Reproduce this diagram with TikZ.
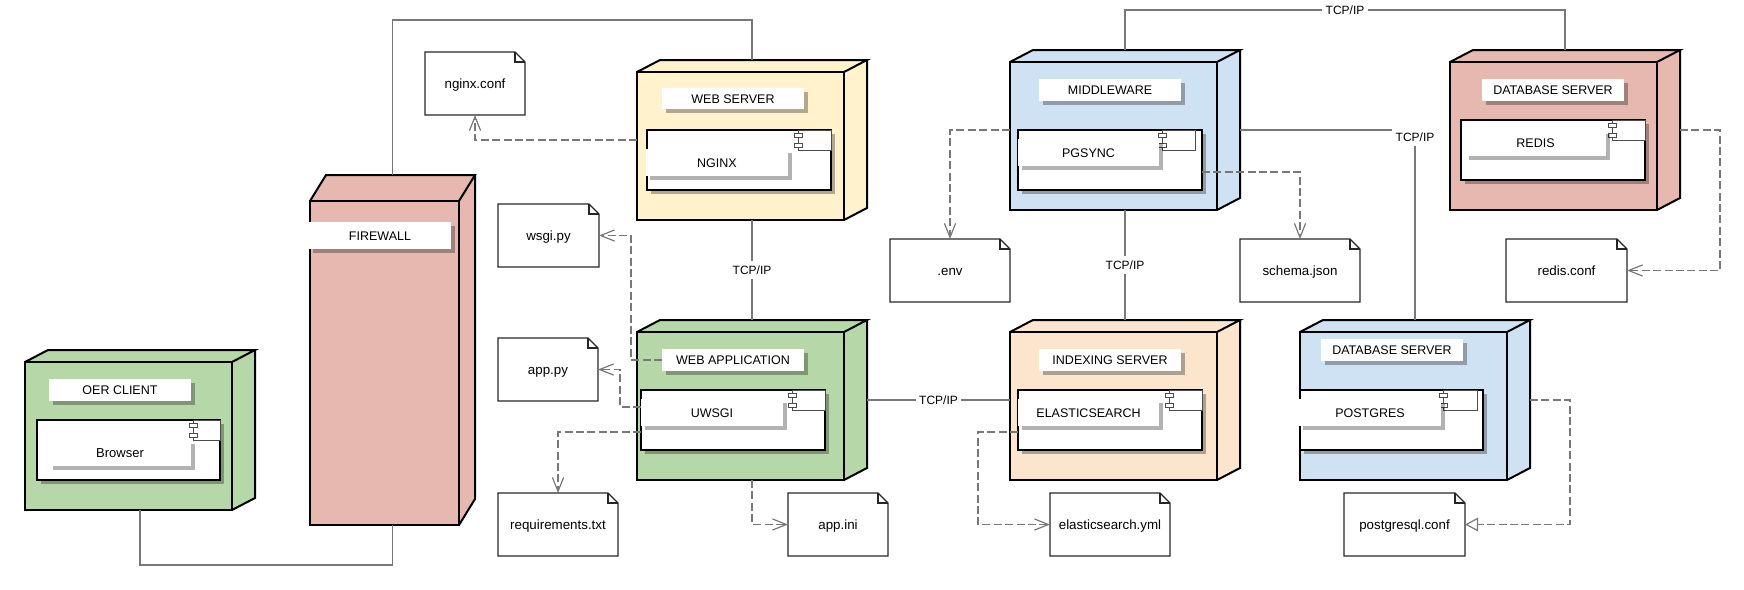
\documentclass[tikz,border=0pt]{standalone}
\usepackage{fontspec}
\setmainfont{Liberation Sans}
\usetikzlibrary{arrows.meta}
\definecolor{cgreen}{HTML}{B6D7A8}
\definecolor{cpink}{HTML}{E6B8AF}
\definecolor{cyellow}{HTML}{FFF2CC}
\definecolor{cblue}{HTML}{CFE2F3}
\definecolor{corange}{HTML}{FCE5CD}
\definecolor{cline}{HTML}{787878}
\tikzset{
  x=0.5pt,y=-0.5pt,
  ghost/.style={inner sep=0pt,outer sep=0pt,rectangle},
  heavy/.style={draw=black,line width=1pt,line join=miter},
  softshadow/.style={fill=black,fill opacity=.3,draw=none},
  lbltext/.style={ghost,fill=white,font=\fontsize{6.25pt}{8pt}\selectfont,text height=5.3pt,text depth=.7pt,align=center},
  notetext/.style={ghost,font=\fontsize{6.67pt}{8pt}\selectfont,text height=6pt,text depth=.8pt},
  noteline/.style={draw=black!85,line width=.65pt,line join=miter},
  iconline/.style={draw=black!70,fill=white,line width=.5pt},
  conn/.style={draw=cline,line width=.75pt},
  dep/.style={conn,dash pattern=on 4pt off 1.7pt},
  barb/.style={-{Straight Barb[length=7pt,width=5.6pt,line width=.6pt]}},
  hollow/.style={-{Triangle[open,fill=white,length=6.5pt,width=6.8pt,line width=.6pt]}},
  tcp/.style={fill=white,inner xsep=1.6pt,inner ysep=0pt,minimum height=9pt,font=\fontsize{6pt}{7pt}\selectfont,text=black,text height=4.5pt,text depth=0pt}
}
% cube node: name x1 y1 x2 y2 dx dy colour
\newcommand{\dnode}[8]{%
  \fill[#8] (#2,#3) -- ({#2+#6},{#3-#7}) -- ({#4+#6},{#3-#7}) -- ({#4+#6},{#5-#7}) -- (#4,#5) -- (#2,#5) -- cycle;
  \draw[heavy] (#2,#3) rectangle (#4,#5);
  \draw[heavy] (#2,#3) -- ({#2+#6},{#3-#7}) -- ({#4+#6},{#3-#7}) -- (#4,#3);
  \draw[heavy] ({#4+#6},{#3-#7}) -- ({#4+#6},{#5-#7}) -- (#4,#5);
  \node[ghost,minimum width={(#4+#6-#2)*0.5pt},minimum height={(#5-#3+#7)*0.5pt}] (#1) at ({(#2+#4+#6)/2},{(#3-#7+#5)/2}) {};
}
% component box: name x1 y1 x2 y2 iconx iconright
\newcommand{\dcomp}[7]{%
  \fill[softshadow] ({#2+4},{#3+4}) rectangle ({#4+4},{#5+4});
  \node[ghost,fill=white,draw=black,line width=1pt,minimum width={(#4-#2)*0.5pt},minimum height={(#5-#3)*0.5pt}] (#1) at ({(#2+#4)/2},{(#3+#5)/2}) {};
  \draw[iconline] (#6,#3) rectangle (#7,{#3+20});
  \draw[iconline] ({#6-4},{#3+3}) rectangle ({#6+4},{#3+7});
  \draw[iconline] ({#6-4},{#3+13}) rectangle ({#6+4},{#3+17});
}
% white label with shadow: name x1 y1 x2 y2 text
\newcommand{\dlabel}[6]{%
  \fill[softshadow] ({#2+4},{#3+4}) rectangle ({#4+4},{#5+4});
  \node[lbltext,minimum width={(#4-#2)*0.5pt},minimum height={(#5-#3)*0.5pt}] (#1) at ({(#2+#4)/2},{(#3+#5)/2}) {#6};
}
% note with folded corner: name x1 y1 x2 y2 text
\newcommand{\dnote}[6]{%
  \node[notetext,minimum width={(#4-#2)*0.5pt},minimum height={(#5-#3)*0.5pt}] (#1) at ({(#2+#4)/2},{(#3+#5)/2}) {#6};
  \draw[noteline] (#1.north west) -- ([xshift=-5pt]#1.north east) -- ([yshift=-5pt]#1.north east) -- (#1.south east) -- (#1.south west) -- cycle;
  \draw[noteline] ([xshift=-5pt]#1.north east) -- ([xshift=-5pt,yshift=-5pt]#1.north east) -- ([yshift=-5pt]#1.north east);
}
\begin{document}
\begin{tikzpicture}
\useasboundingbox (0,0) rectangle (1744,589);
% nodes
\dnode{oer}{25}{362}{232}{510}{23}{12}{cgreen}
\dnode{fw}{310}{201}{459}{525}{16}{26}{cpink}
\dnode{ws}{637}{72}{844}{220}{23}{12}{cyellow}
\dnode{wa}{637}{332}{844}{480}{23}{12}{cgreen}
\dnode{mw}{1010}{62}{1217}{210}{23}{12}{cblue}
\dnode{ix}{1010}{332}{1217}{480}{23}{12}{corange}
\dnode{rd}{1450}{62}{1657}{210}{23}{12}{cpink}
\dnode{pg}{1300}{332}{1507}{480}{23}{12}{cblue}
% components
\dcomp{browser}{37}{420}{220}{480}{193}{220}
\dcomp{nginx}{647}{130}{831}{190}{798}{831}
\dcomp{uwsgi}{641}{390}{825}{450}{792}{825}
\dcomp{pgsync}{1018}{130}{1202}{190}{1162}{1195}
\dcomp{elastic}{1018}{390}{1202}{450}{1169}{1202}
\dcomp{redis}{1461}{120}{1645}{180}{1612}{1645}
\dcomp{postgres}{1300}{390}{1483}{450}{1443}{1477}
% labels
\dlabel{loer}{49}{379}{191}{401}{OER CLIENT}
\dlabel{lbrowser}{49}{440}{191}{466}{\fontsize{6.5pt}{8pt}\selectfont Browser}
\dlabel{lfw}{309}{222}{451}{249}{FIREWALL}
\dlabel{lws}{662}{88}{804}{109}{WEB SERVER}
\dlabel{lnginx}{646}{149}{788}{176}{NGINX}
\dlabel{lwa}{662}{349}{804}{371}{WEB APPLICATION}
\dlabel{luwsgi}{641}{399}{783}{426}{UWSGI}
\dlabel{lmw}{1039}{79}{1181}{101}{MIDDLEWARE}
\dlabel{lpgsync}{1018}{139}{1159}{166}{PGSYNC}
\dlabel{lix}{1039}{349}{1181}{371}{INDEXING SERVER}
\dlabel{lelastic}{1018}{399}{1159}{426}{ELASTICSEARCH}
\dlabel{lrd}{1482}{79}{1624}{101}{DATABASE SERVER}
\dlabel{lredis}{1465}{130}{1606}{156}{REDIS}
\dlabel{lpg}{1321}{339}{1463}{361}{DATABASE SERVER}
\dlabel{lpostgres}{1299}{399}{1441}{426}{POSTGRES}
% notes
\dnote{nginxconf}{425}{52}{525}{115}{nginx.conf}
\dnote{wsgipy}{498}{204}{599}{267}{wsgi.py}
\dnote{apppy}{498}{338}{598}{401}{app.py}
\dnote{reqs}{498}{493}{618}{556}{requirements.txt}
\dnote{appini}{788}{493}{888}{556}{app.ini}
\dnote{envf}{890}{239}{1010}{302}{.env}
\dnote{schema}{1240}{239}{1360}{302}{schema.json}
\dnote{esyml}{1050}{493}{1170}{556}{elasticsearch.yml}
\dnote{pgconf}{1344}{493}{1465}{556}{postgresql.conf}
\dnote{rdconf}{1506}{239}{1627}{302}{redis.conf}
% routing coordinates
\coordinate (rlow) at (0,565);
\coordinate (rtop) at (0,20);
\coordinate (rtcp) at (0,10);
\coordinate (rwsgi) at (631,0);
\coordinate (rapp) at (620,0);
\coordinate (res) at (978,0);
\coordinate (rrd) at (1720,0);
\coordinate (rpg) at (1570,0);
\coordinate (r407) at (0,407);
\coordinate (r432) at (0,432);
\coordinate (r172) at (0,172);
\coordinate (r130) at (1415,130);
% solid connectors
\draw[conn] (oer.south) -- (oer.south |- rlow) -- (fw.south |- rlow) -- (fw.south);
\draw[conn] (fw.north) -- (fw.north |- rtop) -- (ws.north |- rtop) -- (ws.north);
\draw[conn] (ws.south) -- node[tcp] {TCP/IP} (wa.north);
\draw[conn] (wa.east) -- node[tcp] {TCP/IP} (ix.west);
\draw[conn] (mw.south) -- node[tcp] {TCP/IP} (ix.north);
\draw[conn] (mw.north) -- (mw.north |- rtcp) -- node[tcp] {TCP/IP} (rd.north |- rtcp) -- (rd.north);
\draw[conn] (mw.east) -- (mw.east -| r130) -- (pg.north);
\node[tcp] (tcpbend) at (1415,137) {TCP/IP};
% dependencies
\draw[dep,barb] (ws.west) -| (nginxconf.south);
\draw[dep,barb] (lwa.west) -- (lwa.west -| rwsgi) -- (rwsgi |- wsgipy.east) -- (wsgipy.east);
\draw[dep,barb] (uwsgi.west |- r407) -- (rapp |- r407) -- (rapp |- apppy.east) -- (apppy.east);
\draw[dep,barb] (uwsgi.west |- r432) -| (reqs.north);
\draw[dep,barb] (wa.south) |- (appini.west);
\draw[dep,barb] (mw.west) -| (envf.north);
\draw[dep,barb] (pgsync.east |- r172) -| (schema.north);
\draw[dep,barb] (elastic.west |- r432) -- (res |- r432) -- (res |- esyml.west) -- (esyml.west);
\draw[dep,barb] (rd.east) -- (rd.east -| rrd) -- (rrd |- rdconf.east) -- (rdconf.east);
\draw[dep,hollow] (pg.east) -- (pg.east -| rpg) -- (rpg |- pgconf.east) -- (pgconf.east);
\end{tikzpicture}
\end{document}
